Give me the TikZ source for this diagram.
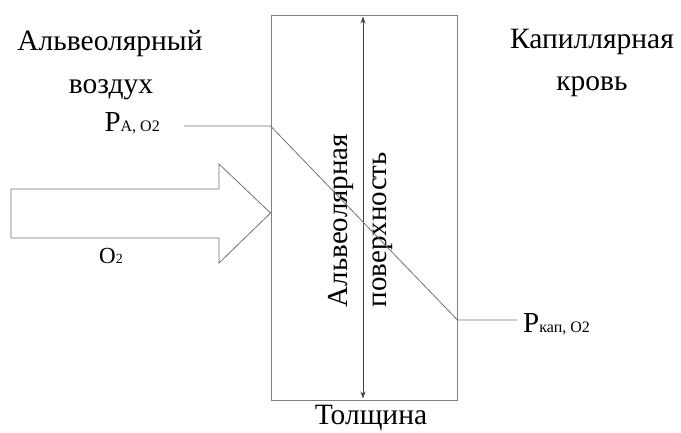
\documentclass[tikz,border=0pt]{standalone}
\usepackage{fontspec}
\setmainfont{Liberation Serif}
\usetikzlibrary{positioning,arrows.meta}

\begin{document}
\begin{tikzpicture}[x=1pt,y=-1pt,
wallbox/.style={rectangle, draw=black!50, line width=0.9pt, minimum width=186pt, minimum height=385pt, inner sep=0pt},
bigtext/.style={font=\fontsize{29.5}{39}\selectfont, inner sep=0pt},
grayline/.style={draw=black!55, line width=0.8pt},
tipped/.style={draw=black!75, {Stealth[length=7pt,width=5pt]}-{Stealth[length=7pt,width=5pt]}},
]
\useasboundingbox (0,0) rectangle (681,432);
%Nodes
\node[wallbox]                    (wall)   at (364,207.5) {};
\node[bigtext, anchor=base]       (air)    at (110,50) {Альвеолярный};
\node[bigtext, anchor=base]       (air2)   at (111,93) {воздух};
\node[bigtext, anchor=base]       (blood)  at (592,48) {Капиллярная};
\node[bigtext, anchor=base]       (blood2) at (592,90) {кровь};
\node[bigtext, anchor=base]       (thick)  at (371,424) {Толщина};
\node[bigtext, font=\fontsize{29}{39}\selectfont, rotate=90, align=left] (surf) at (361,220.5) {Альвеолярная\\поверхность};

\coordinate (a1) at (184,126);
\coordinate (a2) at (wall.west |- a1);
\coordinate (b1) at (wall.east |- 0,320);
\coordinate (b2) at (517,320);
\node[inner sep=0pt, anchor=base east] (pa)  at (160,131) {\fontsize{29}{29}\selectfont P\fontsize{16}{16}\selectfont A, O2};
\node[inner sep=0pt, anchor=base west] (pcap) at (523,332) {\fontsize{29}{29}\selectfont P\fontsize{16}{16}\selectfont кап, O2};

%Big arrow
\coordinate (tip) at (wall.west |- 0,213);
\draw[grayline] (11,189) -- (219,189) -- (219,164) -- (tip) -- (219,263) -- (219,238) -- (11,238) -- cycle;
\node[inner sep=0pt, anchor=base] (o2) at (111,263) {\fontsize{23}{23}\selectfont O\fontsize{14}{14}\selectfont 2};

%Lines
\draw[grayline, tipped] ([xshift=-1pt,yshift=-2pt]wall.north) -- ([xshift=-1pt,yshift=2pt]wall.south);
\draw[grayline] (a1) -- (a2) -- (b1) -- (b2);
\end{tikzpicture}
\end{document}
